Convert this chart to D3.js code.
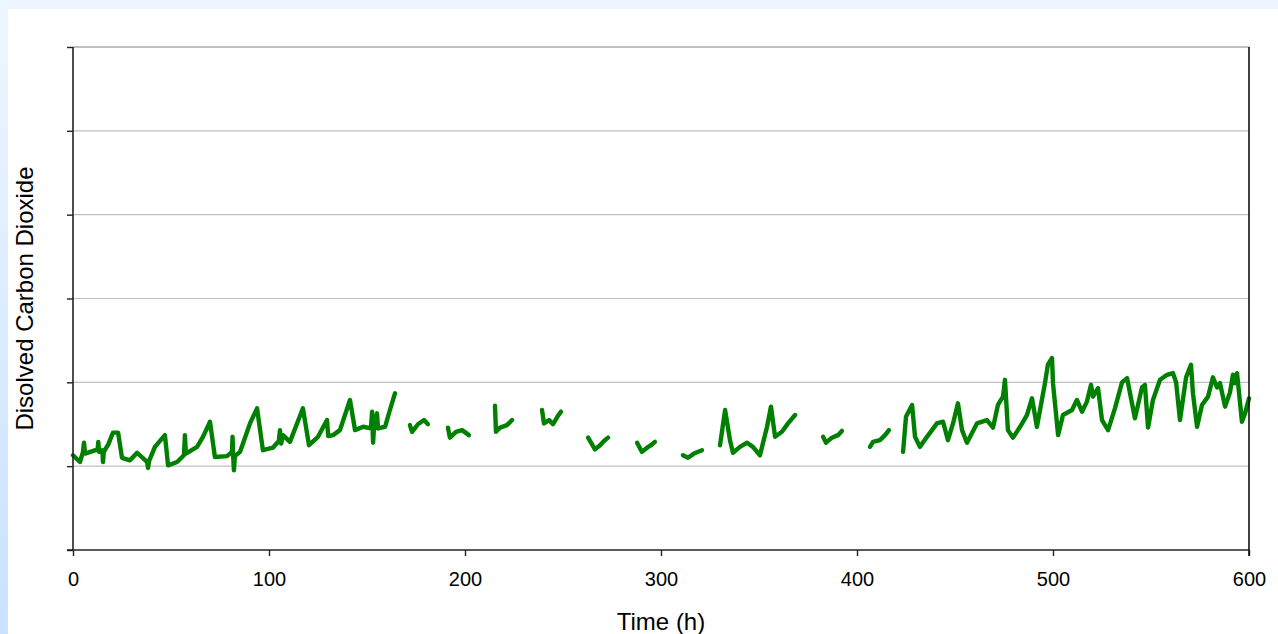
<!DOCTYPE html>
<html>
<head>
<meta charset="utf-8">
<script src="https://cdn.jsdelivr.net/npm/d3@7"></script>
<style>
  html, body { margin: 0; padding: 0; }
  body { width: 1278px; height: 634px; overflow: hidden; font-family: "Liberation Sans", Arial, sans-serif; }
</style>
</head>
<body>
<svg id="chart" width="1278" height="634"></svg>
<script>
// hours / dissolved CO2 (arbitrary units, one unit per gridline), one array per logged run
const seg1 = [[0,1.13],[3.6,1.05],[5.1,1.17],[5.6,1.28],[6.2,1.15],[12.6,1.20],[12.9,1.29],[13.3,1.17],[15.0,1.19],[15.3,1.05],
  [15.7,1.17],[18.0,1.26],[20.4,1.40],[23.0,1.40],[25.0,1.10],[29.1,1.07],[32.7,1.16],[37.8,1.05],[38.3,0.98],[38.8,1.06],
  [41.8,1.23],[46.9,1.37],[48.5,1.01],[53.1,1.05],[56.6,1.13],[57.1,1.37],[57.6,1.15],[63.3,1.23],[66.3,1.35],[69.9,1.53],
  [72.4,1.11],[78.6,1.12],[81.1,1.17],[81.4,1.35],[81.8,1.08],[82.1,0.95],[82.6,1.12],[85.2,1.17],[90.3,1.51],[93.9,1.69],
  [96.9,1.19],[102.0,1.22],[105.0,1.30],[105.6,1.43],[106.2,1.27],[107.1,1.37],[110.7,1.29],[117.3,1.69],[120.4,1.25],
  [125.0,1.35],[129.6,1.55],[130.2,1.36],[132.7,1.37],[136.2,1.43],[141.3,1.79],[143.9,1.43],[148.0,1.47],[152.0,1.45],
  [152.6,1.65],[153.1,1.28],[153.6,1.47],[155.1,1.63],[155.6,1.45],[159.2,1.47],[161.7,1.67],[164.3,1.87]];
const seg2 = [[171.9,1.49],[173.0,1.41],[176.0,1.50],[179.1,1.55],[181.1,1.50]];
const seg3 = [[191.3,1.46],[192.3,1.34],[195.4,1.41],[198.5,1.43],[202.0,1.37]];
const seg4 = [[215.3,1.72],[215.8,1.41],[217.9,1.46],[221.4,1.49],[224.0,1.55]];
const seg5 = [[239.3,1.67],[240.3,1.51],[242.9,1.55],[244.9,1.50],[247.4,1.60],[249.0,1.65]];
const seg6 = [[262.8,1.34],[266.3,1.20],[268.9,1.25],[270.9,1.30],[273.0,1.34]];
const seg7 = [[287.8,1.28],[290.3,1.17],[292.9,1.22],[294.9,1.25],[296.9,1.29]];
const seg8 = [[311.2,1.13],[313.8,1.10],[316.8,1.15],[320.9,1.19]];
const seg9 = [[330.1,1.25],[332.7,1.67],[335.2,1.31],[336.7,1.16],[340.3,1.23],[343.9,1.28],[346.9,1.23],[350.5,1.13],
  [354.1,1.47],[356.1,1.71],[358.2,1.35],[361.7,1.41],[364.8,1.51],[368.4,1.61]];
const seg10 = [[382.7,1.35],[384.2,1.28],[387.2,1.34],[390.3,1.37],[392.3,1.42]];
const seg11 = [[406.6,1.23],[408.2,1.29],[411.7,1.31],[414.3,1.37],[416.3,1.43]];
const seg12 = [[423.5,1.17],[425.0,1.59],[428.1,1.73],[429.6,1.35],[432.1,1.23],[435.7,1.35],[440.8,1.51],[443.9,1.53],
  [446.4,1.31],[449.0,1.51],[451.5,1.75],[453.6,1.43],[456.1,1.28],[461.2,1.51],[466.3,1.55],[469.4,1.46],[471.9,1.73],
  [474.5,1.83],[475.5,2.03],[477.0,1.43],[479.6,1.34],[483.2,1.47],[486.7,1.61],[489.3,1.81],[491.8,1.47],[495.9,1.99],
  [497.4,2.21],[499.5,2.29],[500.0,1.99],[502.6,1.37],[505.1,1.61],[509.7,1.67],[512.2,1.79],[514.8,1.65],[517.3,1.77],
  [519.4,1.97],[520.4,1.83],[523.0,1.93],[525.0,1.55],[528.1,1.43],[531.6,1.69],[535.2,2.00],[537.8,2.05],[539.3,1.87],
  [541.8,1.57],[545.4,1.94],[546.9,1.97],[548.5,1.46],[551.0,1.79],[554.6,2.03],[558.2,2.09],[561.2,2.11],[562.8,2.00],
  [564.8,1.55],[567.9,2.06],[570.4,2.21],[571.4,1.87],[573.5,1.47],[576.0,1.73],[579.1,1.83],[581.6,2.06],[583.7,1.94],
  [585.2,1.99],[587.8,1.71],[590.3,1.88],[591.8,2.09],[592.9,1.99],[593.9,2.11],[596.4,1.53],[598.0,1.63],[600.0,1.81]];
const runs = [seg1, seg2, seg3, seg4, seg5, seg6, seg7, seg8, seg9, seg10, seg11, seg12];

const xTicks = [0, 100, 200, 300, 400, 500, 600];
const yTicks = [0, 1, 2, 3, 4, 5, 6];
const xTitle = "Time (h)";
const yTitle = "Disolved Carbon Dioxide";

const svg = d3.select("#chart");
const plotLeft = 73, plotRight = 1249, plotTop = 47, plotBottom = 550;

// page frame: pale blue band on top and left, white panel
const defs = svg.append("defs");
const grad = defs.append("linearGradient").attr("id", "side").attr("x1", 0).attr("y1", 0).attr("x2", 0).attr("y2", 1);
grad.append("stop").attr("offset", "0%").attr("stop-color", "#eef6ff");
grad.append("stop").attr("offset", "100%").attr("stop-color", "#c9e2ff");
svg.append("rect").attr("width", 1278).attr("height", 634).attr("fill", "#ebf4ff");
svg.append("rect").attr("width", 8).attr("height", 634).attr("fill", "url(#side)");
svg.append("rect").attr("x", 8).attr("y", 9).attr("width", 1270).attr("height", 625).attr("fill", "#fff");

const x = d3.scaleLinear().domain([0, 600]).range([plotLeft, plotRight]);
const y = d3.scaleLinear().domain([0, 6]).range([plotBottom, plotTop]);

// gridlines
svg.append("g").selectAll("line")
    .data(yTicks.filter(d => d > 0))
    .join("line")
    .attr("x1", plotLeft).attr("x2", plotRight)
    .attr("y1", d => y(d)).attr("y2", d => y(d))
    .attr("stroke", "#c0c0c0")
    .attr("stroke-width", d => d === 6 ? 2 : 1.2);

// the trace
const line = d3.line().x(d => x(d[0])).y(d => y(d[1]));
svg.append("g").selectAll("path")
    .data(runs)
    .join("path")
    .attr("d", line)
    .attr("fill", "none")
    .attr("stroke", "#008000")
    .attr("stroke-width", 4.4)
    .attr("stroke-linejoin", "round")
    .attr("stroke-linecap", "round");

// axes
const xAxis = svg.append("g")
    .attr("transform", `translate(0,${plotBottom})`)
    .call(d3.axisBottom(x).tickValues(xTicks).tickSize(6).tickPadding(16).tickSizeOuter(0));
xAxis.select(".domain").remove();
xAxis.selectAll(".tick line").attr("stroke", "#222").attr("stroke-width", 1.4);
xAxis.selectAll("text").attr("font-size", 20).attr("fill", "#000")
    .attr("font-family", "Liberation Sans, Arial, sans-serif");

const yAxis = svg.append("g")
    .attr("transform", `translate(${plotLeft},0)`)
    .call(d3.axisLeft(y).tickValues(yTicks).tickSize(6).tickFormat("").tickSizeOuter(0));
yAxis.select(".domain").remove();
yAxis.selectAll(".tick line").attr("stroke", "#222").attr("stroke-width", 1.4);

svg.append("line").attr("x1", plotLeft - 6).attr("x2", plotRight).attr("y1", plotBottom).attr("y2", plotBottom)
    .attr("stroke", "#222").attr("stroke-width", 1.6);
svg.append("line").attr("x1", plotLeft).attr("x2", plotLeft).attr("y1", plotTop).attr("y2", plotBottom)
    .attr("stroke", "#222").attr("stroke-width", 1.6);
svg.append("line").attr("x1", plotRight).attr("x2", plotRight).attr("y1", plotTop).attr("y2", plotBottom + 6)
    .attr("stroke", "#111").attr("stroke-width", 1.6);

// titles
svg.append("text")
    .attr("x", (plotLeft + plotRight) / 2).attr("y", 630)
    .attr("text-anchor", "middle")
    .attr("font-size", 24)
    .text(xTitle);

svg.append("text")
    .attr("transform", `translate(33,${(plotTop + plotBottom) / 2}) rotate(-90)`)
    .attr("text-anchor", "middle")
    .attr("font-size", 24)
    .text(yTitle);
</script>
</body>
</html>
